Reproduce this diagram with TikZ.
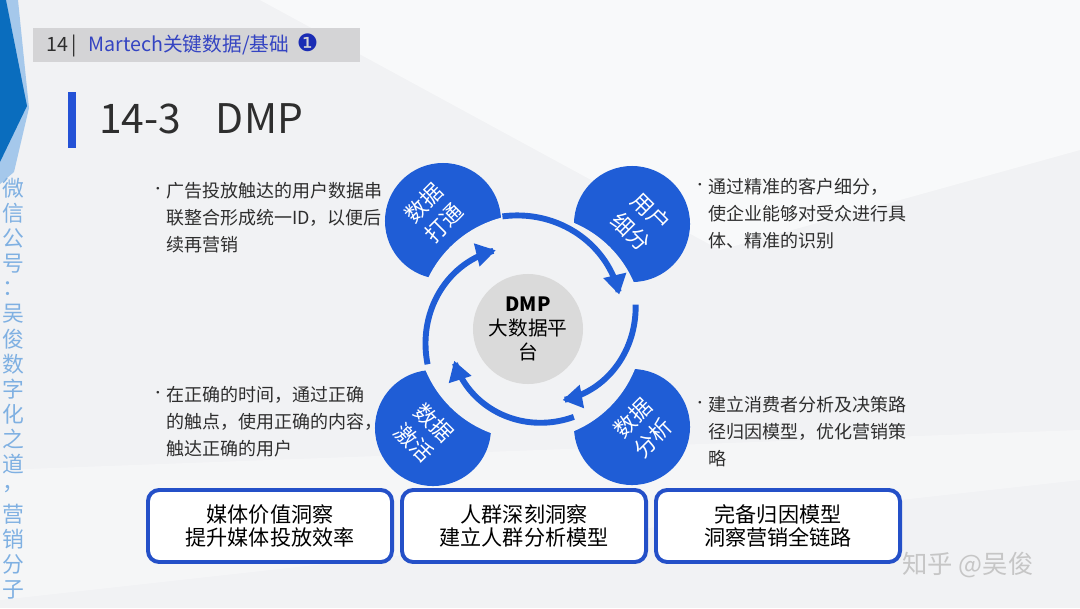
\documentclass[tikz,border=0pt]{standalone}
\usepackage{fontspec}
\setmainfont{Noto Sans CJK SC}
\newfontfamily\symfont{DejaVu Sans}
\usepackage{tikz}
\usetikzlibrary{arrows.meta,positioning}

\definecolor{bggray}{HTML}{F1F2F4}
\definecolor{headgray}{HTML}{D4D4D6}
\definecolor{txtgray}{HTML}{2E2E2E}
\definecolor{headblue}{HTML}{3444C2}
\definecolor{numblue}{HTML}{1A2CB4}
\definecolor{titleblue}{HTML}{2452D6}
\definecolor{dotblue}{HTML}{1F5DD6}
\definecolor{boxblue}{HTML}{2450C8}
\definecolor{edgeblue}{HTML}{0A6DBE}
\definecolor{sideblue}{HTML}{7FB0E2}
\definecolor{hubgray}{HTML}{DADADA}

\tikzset{
  bluedot/.style={circle, fill=dotblue, minimum size=2.9cm, inner sep=0pt},
  dottext/.style={text=white, align=center, font=\fontsize{15.5}{20}\selectfont},
  hubdot/.style={circle, fill=hubgray, minimum size=2.75cm, inner sep=0pt, align=center,
    text=black, font=\fontsize{14}{17}\selectfont},
  ringcase/.style={bggray, line width=9pt},
  ringarrow/.style={dotblue, line width=4.2pt, -{Triangle[length=14pt,width=16pt]}},
  dotmark/.style={text=txtgray, font=\fontsize{9}{9}\selectfont, inner sep=0pt},
  infotext/.style={anchor=base west, align=left, text=txtgray, inner sep=0pt,
    font=\fontsize{12.8}{19.2}\selectfont},
  featurebox/.style={draw=boxblue, line width=2.8pt, fill=white, rounded corners=8pt,
    minimum width=6.1cm, minimum height=1.8cm, align=center, text=black,
    font=\fontsize{15}{16.5}\selectfont},
  sidechar/.style={text=sideblue, font=\fontsize{15.5}{15.5}\selectfont, inner sep=0pt}
}

\begin{document}
\begin{tikzpicture}[x=0.025cm,y=-0.025cm]
  \useasboundingbox (0,0) rectangle (1080,608);
  % background
  \fill[bggray] (0,0) rectangle (1080,608);
  \fill[white,opacity=.55] (260,0) -- (1080,0) -- (1080,150) -- (720,250) -- cycle;
  \fill[white,opacity=.35] (0,470) -- (1080,430) -- (1080,480) -- (0,600) -- cycle;

  % left edge
  \fill[sideblue!70] (0,0) -- (18,0) -- (29,108) -- (14,172) -- (0,184) -- cycle;
  \fill[edgeblue] (0,0) -- (6,0) -- (27,106) -- (0,162) -- cycle;
  \foreach \c [count=\i] in {微,信,公,号,：,吴,俊,数,字,化,之,道,，,营,销,分,子}
    \node[sidechar] (side\i) at (13,{163+25.1*\i}) {\c};

  % header and title
  \fill[headgray] (33,28) rectangle (360,62);
  \node[anchor=west, inner sep=0pt, font=\fontsize{14}{14}\selectfont] (header) at (46,45)
    {\textcolor{txtgray}{14\,|}\hspace{0.6em}\textcolor{headblue}{Martech关键数据/基础}\hspace{0.4em}\textcolor{numblue}{\fontsize{17}{17}\symfont ❶}};
  \fill[titleblue] (68,92) rectangle (76,148);
  \node[anchor=west, inner sep=0pt, text=txtgray, font=\fontsize{29}{29}\selectfont] (title) at (99,119)
    {14-3\hspace{0.85em}DMP};

  % four circles
  \node[bluedot] (linkdot) at (443,221) {};
  \node[bluedot] (segdot) at (632,224) {};
  \node[bluedot] (actdot) at (433,428) {};
  \node[bluedot] (anadot) at (632,427) {};
  \fill[bggray] (530,327) circle (113);

  \node[dottext, rotate=45] (linktext) at (434,213) {数据\\打通};
  \node[dottext, rotate=-45] (segtext) at (641,222) {用户\\细分};
  \node[dottext, rotate=-45] (acttext) at (424,433) {数据\\激活};
  \node[dottext, rotate=45] (anatext) at (643,428) {数据\\分析};

  \node[hubdot] (hub) at (528,329) {\textbf{DMP}\\大数据平\\台};

  % ring arrows
  \foreach \aa/\ab/\ra/\rb in {104/20/114/95, 12/-66/108/80, -64/-156/100/83, 200/114/109/84}
    \draw[ringcase] plot[domain=\aa:\ab, samples=50]
      ({530+(\ra+(\rb-\ra)*(\x-(\aa))/(\ab-(\aa)))*cos(\x)}, {327-(\ra+(\rb-\ra)*(\x-(\aa))/(\ab-(\aa)))*sin(\x)});
  \foreach \aa/\ab/\ra/\rb in {104/20/114/95, 12/-66/108/80, -64/-156/100/83, 200/114/109/84}
    \draw[ringarrow] plot[domain=\aa:\ab, samples=50]
      ({530+(\ra+(\rb-\ra)*(\x-(\aa))/(\ab-(\aa)))*cos(\x)}, {327-(\ra+(\rb-\ra)*(\x-(\aa))/(\ab-(\aa)))*sin(\x)});

  % notes (base = last line)
  \node[dotmark] (linkmark) at (158,190) {•};
  \node[infotext] (linknote) at (166,251) {广告投放触达的用户数据串\\联整合形成统一ID，以便后\\续再营销};
  \node[dotmark] (segmark) at (700,186) {•};
  \node[infotext] (segnote) at (708,247) {通过精准的客户细分，\\使企业能够对受众进行具\\体、精准的识别};
  \node[dotmark] (actmark) at (158,394) {•};
  \node[infotext] (actnote) at (166,455) {在正确的时间，通过正确\\的触点，使用正确的内容，\\触达正确的用户};
  \node[dotmark] (anamark) at (700,404) {•};
  \node[infotext] (ananote) at (708,465) {建立消费者分析及决策路\\径归因模型，优化营销策\\略};

  % bottom boxes
  \node[featurebox] (mediabox) at (270,526) {媒体价值洞察\\提升媒体投放效率};
  \node[featurebox] (crowdbox) at (524,526) {人群深刻洞察\\建立人群分析模型};
  \node[featurebox] (attrbox) at (778,526) {完备归因模型\\洞察营销全链路};

  % watermark
  \node[text=gray!45, font=\fontsize{18}{18}\selectfont] (wmark) at (968,565) {知乎 @吴俊};
\end{tikzpicture}
\end{document}
